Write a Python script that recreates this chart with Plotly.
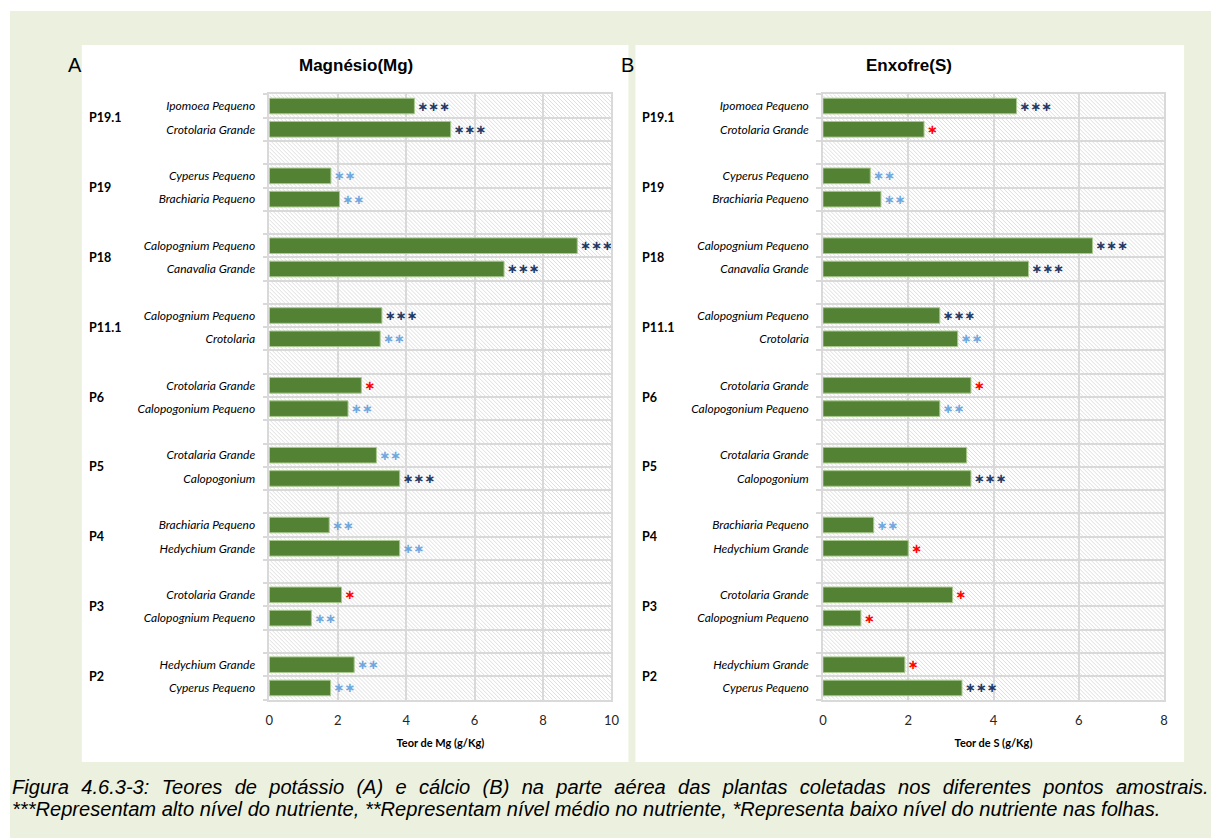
import plotly.graph_objects as go

# target picture size; the page is captured slightly shrunk horizontally
# (about 1211/1220), so the figure is laid out a little wider and every
# position is kept as a fraction of the figure
IMG_W, IMG_H = 1211, 838
SCALE = 1220 / 1211
W, H = round(IMG_W * SCALE), IMG_H

groups = ["P19.1", "P19", "P18", "P11.1", "P6", "P5", "P4", "P3", "P2"]
species = ["Ipomoea Pequeno", "Crotolaria Grande",
           "Cyperus Pequeno", "Brachiaria Pequeno",
           "Calopognium Pequeno", "Canavalia Grande",
           "Calopognium Pequeno", "Crotolaria",
           "Crotolaria Grande", "Calopogonium Pequeno",
           "Crotalaria Grande", "Calopogonium",
           "Brachiaria Pequeno", "Hedychium Grande",
           "Crotolaria Grande", "Calopognium Pequeno",
           "Hedychium Grande", "Cyperus Pequeno"]

mg_values = [4.24, 5.30, 1.80, 2.05, 9.00, 6.86, 3.29, 3.24, 2.69, 2.30,
             3.13, 3.81, 1.75, 3.81, 2.11, 1.23, 2.48, 1.79]
mg_levels = [3, 3, 2, 2, 3, 3, 3, 2, 1, 2, 2, 3, 2, 2, 1, 2, 2, 2]

s_values = [4.54, 2.37, 1.11, 1.36, 6.32, 4.82, 2.74, 3.16, 3.47, 2.74,
            3.37, 3.47, 1.19, 2.00, 3.04, 0.89, 1.92, 3.26]
s_levels = [3, 1, 2, 2, 3, 3, 3, 2, 1, 2, 0, 3, 2, 1, 1, 1, 1, 3]

mg_ticks = [0, 2, 4, 6, 8, 10]
s_ticks = [0, 2, 4, 6, 8]

titles = ["Magnésio(Mg)", "Enxofre(S)"]
panel_letters = ["A", "B"]
axis_titles = ["Teor de Mg (g/Kg)", "Teor de S (g/Kg)"]
caption_lines = [
    "Figura 4.6.3-3: Teores de potássio (A) e cálcio (B) na parte aérea das plantas coletadas nos diferentes pontos amostrais.",
    "***Representam alto nível do nutriente, **Representam nível médio no nutriente, *Representa baixo nível do nutriente nas folhas.",
]

level_colors = {0: "#000000", 1: "#FF0000", 2: "#6EA6DE", 3: "#1F3864"}

# layout geometry (picture pixels)
GREEN_LEFT, GREEN_TOP = 6, 11
PLOT_TOP, PLOT_BOT = 94.4, 699.6
X_DOMS_PX = [(266, 609), (821, 1163)]
PANELS_PX = [(78, 626), (633, 1183)]
PANEL_TOP, PANEL_BOT = 45, 762
GROUP_X_PX = [83, 638]

rows = [(i // 2) * 3 + (i % 2) for i in range(len(species))]
n_rows = (len(groups) * 3) - 1
boundaries = [k - 0.5 for k in range(n_rows + 1)]

BAR_COLOR = "#548235"
GRID = "#D9D9D9"
FONT = "Lato, Open Sans, sans-serif"
NARROW = "Liberation Sans, Arial, sans-serif"


def px(x):
    return x / IMG_W


def py(y):
    return 1 - y / IMG_H


def hatch_path(x0px, x1px, y0px, y1px, step=4.0):
    wpx = x1px - x0px
    hpx = y1px - y0px
    segs = []
    c = -hpx
    while c < wpx:
        ya = max(0.0, -c)
        yb = min(hpx, wpx - c)
        if yb > ya:
            xa = c + ya
            xb = c + yb
            segs.append("M{:.5f},{:.5f}L{:.5f},{:.5f}".format(
                px(x0px + xa), py(y0px + ya), px(x0px + xb), py(y0px + yb)))
        c += step
    return "".join(segs)


fig = go.Figure()

datasets = [(mg_values, mg_levels, mg_ticks), (s_values, s_levels, s_ticks)]
for k, (vals, levels, ticks) in enumerate(datasets):
    xa = "x" if k == 0 else "x2"
    ya = "y" if k == 0 else "y2"
    fig.add_trace(go.Bar(
        x=vals, y=rows, orientation="h", width=0.67,
        marker=dict(color=BAR_COLOR, line=dict(color="#A9C98E", width=1)),
        text=["\u2217" * lv for lv in levels],
        textposition="outside",
        textfont=dict(family="DejaVu Sans", size=13,
                      color=[level_colors[lv] for lv in levels], weight="bold"),
        constraintext="none", cliponaxis=False,
        hoverinfo="skip", showlegend=False,
        xaxis=xa, yaxis=ya,
    ))

shapes = [dict(type="rect", xref="paper", yref="paper", x0=px(GREEN_LEFT), x1=1.0,
               y0=0.0, y1=py(GREEN_TOP), fillcolor="#EBF1DE", line=dict(width=0),
               layer="below")]
for k in range(2):
    (a, b) = PANELS_PX[k]
    shapes.append(dict(type="rect", xref="paper", yref="paper", x0=px(a), x1=px(b),
                       y0=py(PANEL_BOT), y1=py(PANEL_TOP), fillcolor="white",
                       line=dict(width=0), layer="below"))
    (xa0, xa1) = X_DOMS_PX[k]
    shapes.append(dict(type="path", xref="paper", yref="paper",
                       path=hatch_path(xa0, xa1, PLOT_TOP, PLOT_BOT),
                       line=dict(color="#D6D6D6", width=0.8), layer="below"))

annotations = []
for k in range(2):
    (xa0, xa1) = X_DOMS_PX[k]
    annotations.append(dict(text="<b>" + titles[k] + "</b>", xref="paper", yref="paper",
                            x=px((xa0 + xa1) / 2 - 85), y=py(66), showarrow=False,
                            font=dict(family=NARROW, size=17, color="black"),
                            xanchor="center", yanchor="middle"))
    annotations.append(dict(text=panel_letters[k], xref="paper", yref="paper",
                            x=px(PANELS_PX[k][0] - 16), y=py(65), showarrow=False,
                            font=dict(family=NARROW, size=20, color="black"),
                            xanchor="left", yanchor="middle"))
    for g, name in enumerate(groups):
        annotations.append(dict(text="<b>" + name + "</b>", xref="paper",
                                yref="y" if k == 0 else "y2",
                                x=px(GROUP_X_PX[k]), y=g * 3 + 0.5, showarrow=False,
                                font=dict(family=FONT, size=12.5, color="black"),
                                xanchor="left", yanchor="middle"))

# first caption line is justified in the original: widen the word gaps
caption_render = [caption_lines[0].replace(" ", " \u2004"), caption_lines[1]]
for i, line in enumerate(caption_render):
    annotations.append(dict(text="<i>" + line + "</i>", xref="paper", yref="paper",
                            x=px(6), y=py(787 + 22 * i), showarrow=False,
                            font=dict(family=NARROW, size=20.1, color="black"),
                            xanchor="left", yanchor="middle"))

ydom = [py(PLOT_BOT), py(PLOT_TOP)]


def xaxis_cfg(k, ticks):
    (xa0, xa1) = X_DOMS_PX[k]
    return dict(domain=[px(xa0), px(xa1)], range=[ticks[0], ticks[-1]],
                tickvals=ticks, showgrid=True, gridcolor=GRID, gridwidth=1.5,
                zeroline=False, showline=True, mirror=True, linecolor=GRID, linewidth=1.5,
                ticks="", tickfont=dict(family=FONT, size=13, color="#262626"),
                ticklabelstandoff=8,
                title=dict(text="<b>" + axis_titles[k] + "</b>",
                           font=dict(family=FONT, size=11, color="black"), standoff=12),
                anchor="y" if k == 0 else "y2", fixedrange=True)


def yaxis_cfg(k):
    return dict(domain=ydom, range=[n_rows - 0.5, -0.5], tickmode="array",
                tickvals=rows, ticktext=species, showgrid=False, zeroline=False,
                showline=True, mirror=True, linecolor=GRID, linewidth=1.5,
                ticks="", ticklabelstandoff=10,
                tickfont=dict(family=FONT, size=12, color="black", style="italic"),
                minor=dict(tickmode="array", tickvals=boundaries, showgrid=True,
                           gridcolor=GRID, gridwidth=1.5, ticks="outside", ticklen=5,
                           tickcolor=GRID, tickwidth=1.5),
                anchor="x" if k == 0 else "x2", fixedrange=True)


fig.update_layout(
    width=W, height=H,
    margin=dict(l=0, r=0, t=0, b=0),
    paper_bgcolor="white", plot_bgcolor="rgba(0,0,0,0)",
    bargap=0.33,
    xaxis=xaxis_cfg(0, mg_ticks), xaxis2=xaxis_cfg(1, s_ticks),
    yaxis=yaxis_cfg(0), yaxis2=yaxis_cfg(1),
    shapes=shapes, annotations=annotations,
    showlegend=False,
)

fig.write_html("out.html", config={"displayModeBar": False},
               post_script="document.body.style.margin='0';document.body.style.overflow='hidden';")
